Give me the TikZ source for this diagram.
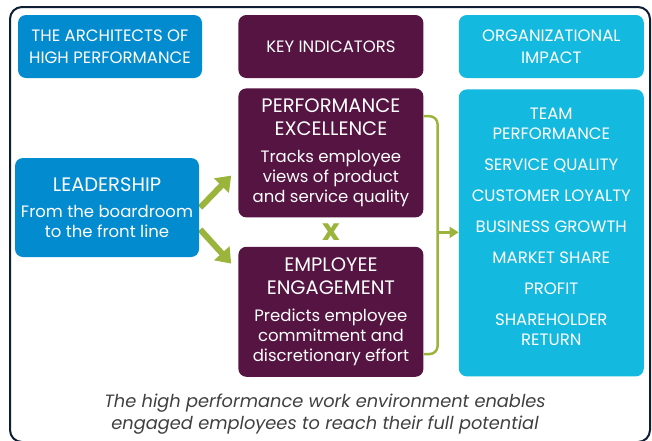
\documentclass[tikz,border=0pt]{standalone}
\usepackage{fontspec}
\setmainfont{Poppins}
\usepackage{tikz}
\usetikzlibrary{arrows.meta, positioning, calc, backgrounds}
\definecolor{hpBlue}{RGB}{3, 139, 208}
\definecolor{hpPlum}{RGB}{85, 20, 65}
\definecolor{hpCyan}{RGB}{19, 185, 222}
\definecolor{hpGreen}{RGB}{155, 181, 60}
\definecolor{hpNavy}{RGB}{14, 30, 51}
\definecolor{hpGray}{RGB}{64, 64, 64}
\newcommand{\hphead}{\fontsize{19.5}{20}\selectfont}
\newcommand{\hpbody}{\fontsize{16.5}{20}\selectfont}

\begin{document}
\begin{tikzpicture}[
    x=1pt, y=-1pt,
    box/.style={
        rectangle,
        fill=#1,
        text=white,
        minimum width=185pt,
        align=center,
        inner sep=2pt,
        font=\hpbody,
        rounded corners=8pt
    },
    titlebox/.style={
        box=#1,
        minimum height=63pt,
        font=\fontsize{16.5}{22}\selectfont
    },
    bigarrow/.style={-{Triangle[width=20pt,length=14pt]}, line width=6pt, hpGreen},
    bracket/.style={line width=2.5pt, hpGreen, rounded corners=8pt},
    smallarrow/.style={-{Triangle[width=11pt,length=9pt]}, line width=2.5pt, hpGreen}
]
    \useasboundingbox (0,0) rectangle (652,440);
    \draw[line width=2pt, hpNavy, rounded corners=12pt] (10,7) rectangle (650,442);

    % Column headers
    \node[titlebox=hpBlue, minimum width=184pt] (architects) at (110,46.5)
        {THE ARCHITECTS OF\\HIGH PERFORMANCE};
    \node[titlebox=hpPlum, right=36pt of architects] (indicators) {KEY INDICATORS};
    \node[titlebox=hpCyan, right=35pt of indicators] (orgimpact) {ORGANIZATIONAL\\IMPACT};

    % Main boxes
    \node[box=hpBlue, minimum width=184pt, minimum height=99pt] (leadership) at (107,207.5)
        {\hphead LEADERSHIP\\[6pt]From the boardroom\\to the front line};
    \node[box=hpPlum, minimum height=129pt, below=10pt of indicators] (perf)
        {\hphead PERFORMANCE\\[3pt]\hphead EXCELLENCE\\[7pt]Tracks employee\\views of product\\and service quality};
    \node[box=hpPlum, minimum height=130pt, below=29pt of perf] (engage)
        {\hphead EMPLOYEE\\[3pt]\hphead ENGAGEMENT\\[7pt]Predicts employee\\commitment and\\discretionary effort};
    \node[box=hpCyan, minimum height=287pt, below=11pt of orgimpact] (impact)
        {TEAM\\PERFORMANCE\\[11pt]SERVICE QUALITY\\[11pt]CUSTOMER LOYALTY\\[11pt]BUSINESS GROWTH\\[11pt]MARKET SHARE\\[11pt]PROFIT\\[11pt]SHAREHOLDER\\RETURN\\[-8pt]\mbox{}};

    % Links
    \node[text=hpGreen, font=\fontsize{30}{30}\selectfont\bfseries] (cross)
        at ($(perf.south)!0.5!(engage.north)$) {x};
    \begin{scope}[on background layer]
        \draw[bigarrow] ([shift={(1,0)}]leadership.east) -- ([shift={(-7,-42)}]perf.south west);
        \draw[bigarrow] ([shift={(1,22)}]leadership.east) -- ([shift={(-7,17)}]engage.north west);
    \end{scope}
    \draw[bracket] ([shift={(0,28)}]perf.north east) -| ([shift={(14,-23)}]engage.south east)
        -- ([shift={(0,-23)}]engage.south east);
    \coordinate (joint) at ($(perf.east)!0.5!(engage.east)+(14,0)$);
    \draw[smallarrow] (joint) -- (joint -| impact.west);

    % Caption
    \node[text=hpGray, align=center, font=\fontsize{17.8}{22}\selectfont\itshape] (caption) at (325,414)
        {The high performance work environment enables\\engaged employees to reach their full potential};
\end{tikzpicture}
\end{document}
